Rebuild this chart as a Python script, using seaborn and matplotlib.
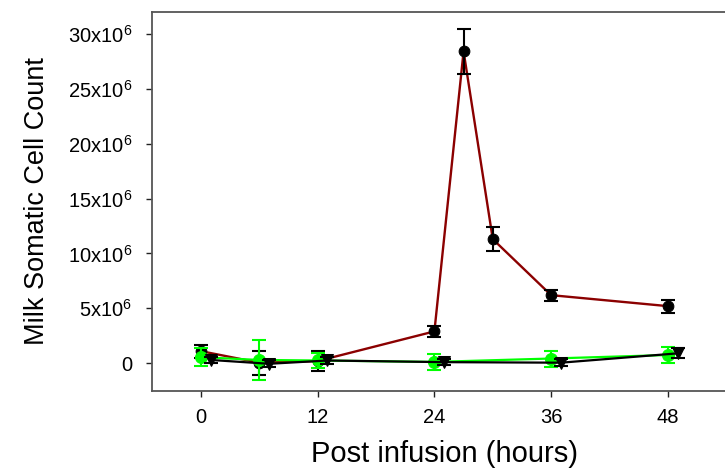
import matplotlib
matplotlib.use('Agg')
import matplotlib.pyplot as plt
import seaborn as sns
import pandas as pd

# Data (cells per mL)
hours_red = [0, 6, 12, 24, 27, 30, 36, 48]
scc_red = [1.1e6, 0.05e6, 0.2e6, 2.9e6, 28.4e6, 11.3e6, 6.2e6, 5.2e6]
err_red = [0.6e6, 1.1e6, 0.9e6, 0.5e6, 2.05e6, 1.1e6, 0.5e6, 0.6e6]

hours_green = [0, 6, 12, 24, 36, 48]
scc_green = [0.55e6, 0.3e6, 0.25e6, 0.12e6, 0.43e6, 0.75e6]
err_green = [0.8e6, 1.85e6, 0.7e6, 0.76e6, 0.73e6, 0.75e6]

hours_black = [1, 7, 13, 25, 37, 49]
scc_black = [0.3e6, -0.05e6, 0.25e6, 0.1e6, 0.05e6, 0.9e6]
err_black = [0.3e6, 0.3e6, 0.3e6, 0.3e6, 0.3e6, 0.45e6]

y_ticks = [0, 5e6, 10e6, 15e6, 20e6, 25e6, 30e6]
y_labels = ['0'] + [r'%dx10$^{\mathregular{6}}$' % v for v in [5, 10, 15, 20, 25, 30]]
x_ticks = [0, 12, 24, 36, 48]

sns.set_style('ticks')
plt.rcParams['font.family'] = ['Liberation Sans', 'DejaVu Sans']
plt.rcParams['mathtext.fontset'] = 'custom'
plt.rcParams['mathtext.rm'] = 'Liberation Sans'
plt.rcParams['text.color'] = 'black'
plt.rcParams['axes.labelcolor'] = 'black'
plt.rcParams['xtick.color'] = 'black'
plt.rcParams['ytick.color'] = 'black'

fig = plt.figure(figsize=(7.25, 4.73), dpi=100)
ax = fig.add_axes([0.2101, 0.174, 0.805, 0.801])

red = pd.DataFrame({'h': hours_red, 'v': scc_red})
green = pd.DataFrame({'h': hours_green, 'v': scc_green})
black = pd.DataFrame({'h': hours_black, 'v': scc_black})

# red series: dark red line, black markers and error bars
sns.lineplot(data=red, x='h', y='v', ax=ax, color='#8b0000', linewidth=1.7,
             marker='o', markersize=7.7, markerfacecolor='black',
             markeredgecolor='black', zorder=2)
ax.errorbar(hours_red, scc_red, yerr=err_red, fmt='none', ecolor='black',
            elinewidth=1.5, capsize=4.7, capthick=1.5, zorder=3)

# green series
sns.lineplot(data=green, x='h', y='v', ax=ax, color='#00ff00', linewidth=1.6,
             marker='o', markersize=8.6, markerfacecolor='#00ff00',
             markeredgecolor='#00ff00', zorder=4)
ax.errorbar(hours_green, scc_green, yerr=err_green, fmt='none', ecolor='#00ff00',
            elinewidth=1.5, capsize=4.7, capthick=1.5, zorder=4)

# black triangles
sns.lineplot(data=black, x='h', y='v', ax=ax, color='black', linewidth=1.6,
             marker='v', markersize=8.5, markerfacecolor='black',
             markeredgecolor='black', zorder=5)
ax.errorbar(hours_black, scc_black, yerr=err_black, fmt='none', ecolor='black',
            elinewidth=1.5, capsize=4.7, capthick=1.5, zorder=5)

ax.set_xlim(-5, 55)
ax.set_ylim(-2.5e6, 32e6)
ax.set_xticks(x_ticks)
ax.set_xticklabels([str(t) for t in x_ticks])
ax.set_yticks(y_ticks)
ax.set_yticklabels(y_labels)
ax.tick_params(axis='both', direction='out', length=4.5, width=1,
               labelsize=14.5, labelcolor='black', color='#222222')
ax.tick_params(axis='y', pad=10)
ax.tick_params(axis='x', pad=8)

for side in ['left', 'bottom', 'top']:
    ax.spines[side].set_visible(True)
    ax.spines[side].set_color('#555555')
    ax.spines[side].set_linewidth(1.3)
ax.spines['right'].set_visible(False)

ax.set_xlabel('Post infusion (hours)', fontsize=21, labelpad=9, color='black')
ax.set_ylabel('Milk Somatic Cell Count', fontsize=19.5, labelpad=13, color='black')

fig.savefig('out.png', dpi=100)
